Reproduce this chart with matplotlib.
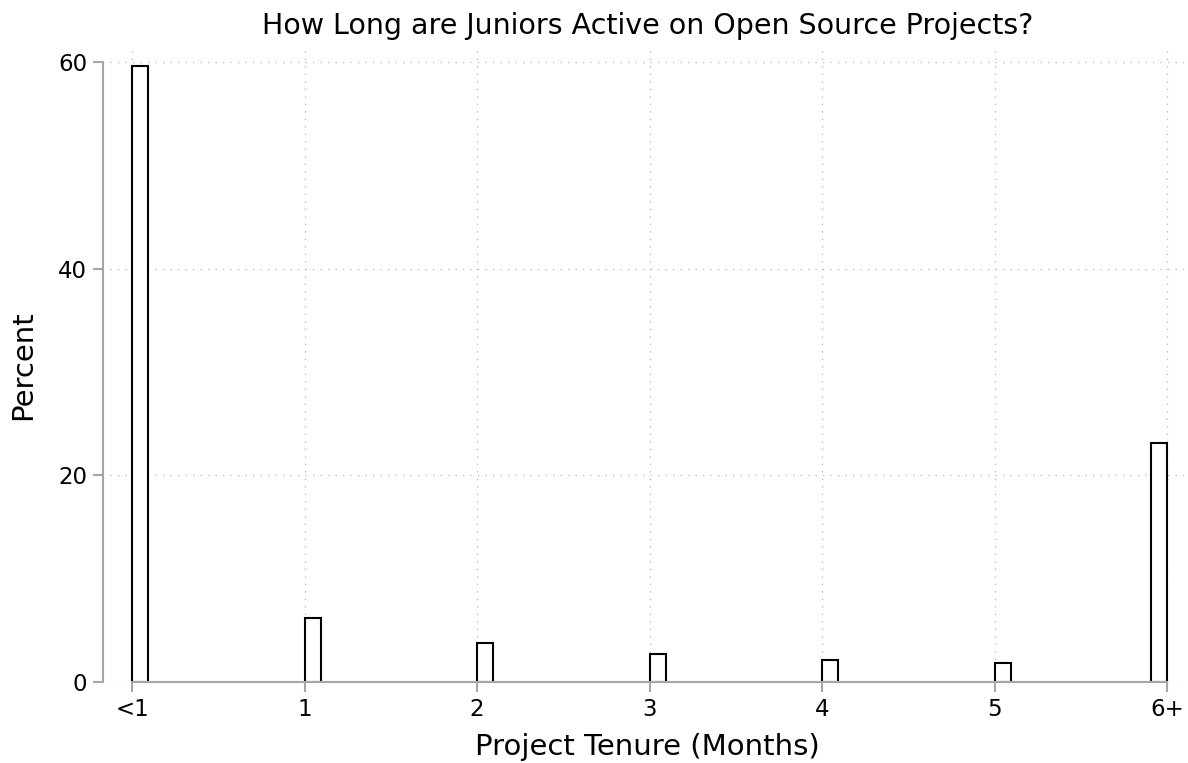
import matplotlib.pyplot as plt
import numpy as np

months = [0, 1, 2, 3, 4, 5, 6]
tick_labels = ['<1', '1', '2', '3', '4', '5', '6+']
percent = [59.7, 6.2, 3.8, 2.75, 2.1, 1.8, 23.1]

w = 0.093
fig = plt.figure(figsize=(11.88, 7.63), dpi=100)
ax = fig.add_axes([0.0926, 0.1062, 0.9049, 0.8309])

# last bin sits left of its tick, the rest start at the tick
lefts = [m if m < 6 else m - w for m in months]
ax.bar(lefts, percent, width=w, align='edge', color='white',
       edgecolor='black', linewidth=1.5, zorder=3)

ax.set_xlim(-0.128, 6.104)
ax.set_ylim(0, 61.4)
ax.set_xticks(months)
ax.set_xticklabels(tick_labels)
ax.set_yticks([0, 20, 40, 60])

ax.grid(True, linestyle=(0, (1, 5)), color='#b5b5b5', linewidth=0.9, zorder=0)

for s in ['top', 'right']:
    ax.spines[s].set_visible(False)
ax.spines['left'].set_position(('outward', 5))
ax.spines['left'].set_bounds(0, 60)
ax.spines['bottom'].set_bounds(0, 6)
for s in ['left', 'bottom']:
    ax.spines[s].set_color('#a6a6a6')
    ax.spines[s].set_linewidth(1.5)
    ax.spines[s].set_zorder(4)

ax.tick_params(axis='both', colors='#a6a6a6', length=7.5, width=1.5,
               labelcolor='black', labelsize=16.5, pad=4)

ax.set_title('How Long are Juniors Active on Open Source Projects?', fontsize=20.5, pad=10)
ax.set_xlabel('Project Tenure (Months)', fontsize=21, labelpad=9)
ax.set_ylabel('Percent', fontsize=21, labelpad=15)

fig.savefig('out.png', dpi=100)
